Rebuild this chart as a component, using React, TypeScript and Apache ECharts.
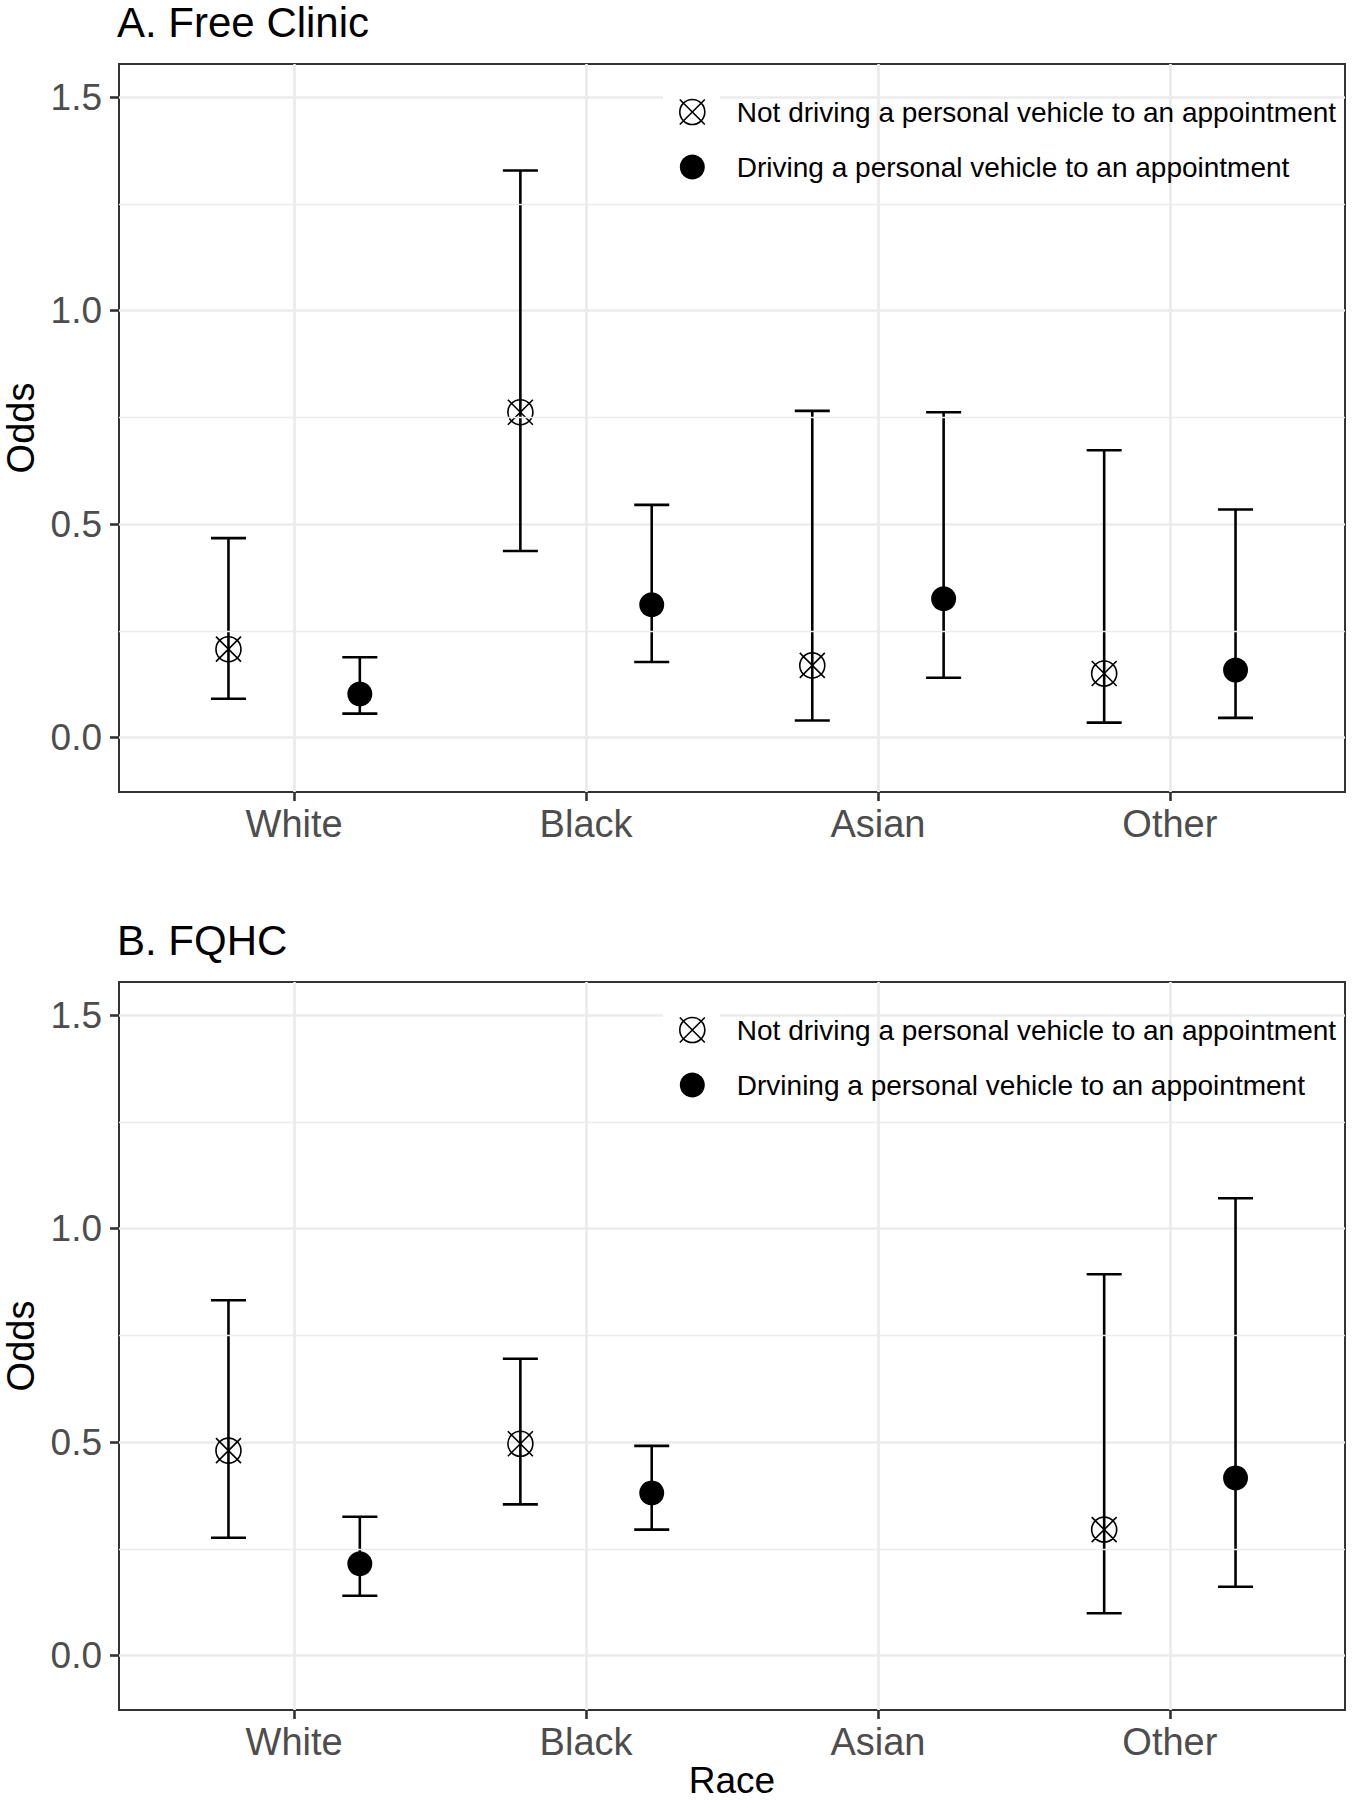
import React, { useEffect, useRef } from "react";
import * as echarts from "echarts";

const CATEGORIES = ["White", "Black", "Asian", "Other"];
const X_TICKS = [0, 1, 2, 3];
const Y_TICKS = [0, 0.5, 1.0, 1.5];
const Y_MINOR = [0.25, 0.75, 1.25];

const NAME_NOT = "Not driving a personal vehicle to an appointment";
const NAME_DRV_A = "Driving a personal vehicle to an appointment";
const NAME_DRV_B = "Drvining a personal vehicle to an appointment";

// Panel A: Free Clinic
const A_NOT_EST = [0.207, 0.762, 0.169, 0.15];
const A_NOT_LO = [0.091, 0.437, 0.04, 0.035];
const A_NOT_HI = [0.467, 1.328, 0.765, 0.673];
const A_DRV_EST = [0.102, 0.311, 0.325, 0.158];
const A_DRV_LO = [0.056, 0.177, 0.14, 0.046];
const A_DRV_HI = [0.188, 0.545, 0.762, 0.534];

// Panel B: FQHC
const B_NOT_EST = [0.48, 0.496, null, 0.295];
const B_NOT_LO = [0.276, 0.354, null, 0.099];
const B_NOT_HI = [0.832, 0.695, null, 0.893];
const B_DRV_EST = [0.215, 0.381, null, 0.416];
const B_DRV_LO = [0.14, 0.295, null, 0.161];
const B_DRV_HI = [0.325, 0.491, null, 1.071];

const DODGE = 0.225;
const CAP_HALF = 0.06;
const FONT = '"Liberation Sans", Arial, sans-serif';
const X_SYMBOL =
  "path://M25 12.5A12.5 12.5 0 1 1 0 12.5A12.5 12.5 0 1 1 25 12.5ZM0 0L25 25M0 25L25 0";

function pts(est: (number | null)[], off: number) {
  const out: number[][] = [];
  est.forEach((v, i) => {
    if (v !== null) out.push([i + off, v]);
  });
  return out;
}
function bars(lo: (number | null)[], hi: (number | null)[], off: number) {
  const out: number[][] = [];
  lo.forEach((v, i) => {
    const h = hi[i];
    if (v !== null && h !== null) out.push([i + off, v, h]);
  });
  return out;
}

const renderBar = (params: any, api: any) => {
  const x = api.value(0);
  const lo = api.value(1);
  const hi = api.value(2);
  const pLo = api.coord([x, lo]);
  const pHi = api.coord([x, hi]);
  const half = api.coord([x + CAP_HALF, lo])[0] - pLo[0];
  const st = { stroke: "#000", lineWidth: 2.6 };
  return {
    type: "group",
    children: [
      { type: "line", shape: { x1: pLo[0], y1: pHi[1], x2: pLo[0], y2: pLo[1] }, style: st },
      { type: "line", shape: { x1: pLo[0] - half, y1: pHi[1], x2: pLo[0] + half, y2: pHi[1] }, style: st },
      { type: "line", shape: { x1: pLo[0] - half, y1: pLo[1], x2: pLo[0] + half, y2: pLo[1] }, style: st },
    ],
  };
};

function panelSeries(idx: number, notEst: any[], notLo: any[], notHi: any[], drvEst: any[], drvLo: any[], drvHi: any[], drvName: string) {
  return [
    {
      type: "line",
      name: "minor-" + idx,
      xAxisIndex: idx,
      yAxisIndex: idx,
      data: [],
      z: 1,
      silent: true,
      markLine: {
        silent: true,
        symbol: "none",
        label: { show: false },
        lineStyle: { color: "#ebebeb", width: 1.4, type: "solid" },
        emphasis: { disabled: true },
        data: Y_MINOR.map((v) => ({ yAxis: v })),
      },
    },
    {
      type: "custom",
      name: "ci-not-" + idx,
      xAxisIndex: idx,
      yAxisIndex: idx,
      renderItem: renderBar,
      encode: { x: 0, y: [1, 2] },
      data: bars(notLo, notHi, -DODGE),
      z: 3,
      silent: true,
    },
    {
      type: "custom",
      name: "ci-drv-" + idx,
      xAxisIndex: idx,
      yAxisIndex: idx,
      renderItem: renderBar,
      encode: { x: 0, y: [1, 2] },
      data: bars(drvLo, drvHi, DODGE),
      z: 3,
      silent: true,
    },
    {
      type: "scatter",
      name: NAME_NOT,
      xAxisIndex: idx,
      yAxisIndex: idx,
      symbol: X_SYMBOL,
      symbolSize: 25,
      itemStyle: { color: "transparent", borderColor: "#000", borderWidth: 1.6, opacity: 1 },
      data: pts(notEst, -DODGE),
      z: 4,
    },
    {
      type: "scatter",
      name: drvName,
      xAxisIndex: idx,
      yAxisIndex: idx,
      symbol: "circle",
      symbolSize: 25,
      itemStyle: { color: "#000", borderWidth: 0, opacity: 1 },
      data: pts(drvEst, DODGE),
      z: 4,
    },
  ];
}

function xAxisDef(idx: number) {
  const ax: any = {
    type: "value",
    gridIndex: idx,
    min: -0.6,
    max: 3.6,
    axisLine: { show: false, onZero: false },
    axisTick: { show: true, customValues: X_TICKS, length: 9, lineStyle: { color: "#333333", width: 2.6 } },
    axisLabel: {
      customValues: X_TICKS,
      formatter: (v: number) => CATEGORIES[Math.round(v)],
      fontSize: 38,
      color: "#4d4d4d",
      margin: 13,
      fontFamily: FONT,
    },
    splitLine: { show: true, lineStyle: { color: "#ebebeb", width: 2.7 } },
  };
  if (idx === 1) {
    ax.name = "Race";
    ax.nameLocation = "middle";
    ax.nameGap = 40;
    ax.nameTextStyle = { fontSize: 37, lineHeight: 38, color: "#000", fontFamily: FONT };
  }
  return ax;
}

function yAxisDef(idx: number) {
  return {
    type: "value",
    gridIndex: idx,
    min: -0.1275,
    max: 1.5775,
    name: "Odds",
    nameLocation: "middle",
    nameGap: 78,
    nameTextStyle: { fontSize: 38, color: "#000", fontFamily: FONT },
    axisLine: { show: false, onZero: false },
    axisTick: { show: true, customValues: Y_TICKS, length: 9, lineStyle: { color: "#333333", width: 2.6 } },
    axisLabel: {
      customValues: Y_TICKS,
      formatter: (v: number) => v.toFixed(1),
      fontSize: 37,
      color: "#4d4d4d",
      margin: 17,
      fontFamily: FONT,
    },
    splitLine: { show: true, lineStyle: { color: "#ebebeb", width: 2.7 } },
  };
}

function legendDef(top: number, drvName: string) {
  return {
    orient: "vertical",
    left: 679,
    top,
    padding: 0,
    itemWidth: 25,
    itemHeight: 25,
    itemGap: 27,
    textStyle: { fontSize: 28, color: "#000", padding: [0, 0, 0, 27], lineHeight: 25, fontFamily: FONT },
    data: [
      {
        name: NAME_NOT,
        icon: X_SYMBOL,
        itemStyle: { color: "transparent", borderColor: "#000", borderWidth: 1.6 },
      },
      { name: drvName, icon: "circle", itemStyle: { color: "#000", borderWidth: 0, opacity: 1 } },
    ],
  };
}

export default function App() {
  const ref = useRef<HTMLDivElement>(null);
  useEffect(() => {
    if (!ref.current) return;
    const chart = echarts.init(ref.current, null, { renderer: "svg", width: 1353, height: 1800 });
    const gridBase = {
      left: 119,
      width: 1226,
      height: 728,
      show: true,
      borderColor: "#333333",
      borderWidth: 2,
      backgroundColor: "transparent",
      containLabel: false,
      outerBoundsMode: "none",
    };
    chart.setOption({
      animation: false,
      backgroundColor: "#ffffff",
      title: [
        { text: "A. Free Clinic", left: 117, top: 1, padding: 0, textStyle: { fontSize: 42, fontWeight: "normal", color: "#000", fontFamily: FONT } },
        { text: "B. FQHC", left: 117, top: 919, padding: 0, textStyle: { fontSize: 42, fontWeight: "normal", color: "#000", fontFamily: FONT } },
      ],
      grid: [
        { ...gridBase, top: 64 },
        { ...gridBase, top: 982 },
      ],
      xAxis: [xAxisDef(0), xAxisDef(1)],
      yAxis: [yAxisDef(0), yAxisDef(1)],
      legend: [legendDef(98, NAME_DRV_A), legendDef(1016, NAME_DRV_B)],
      graphic: [
        { type: "rect", z: 1, silent: true, shape: { x: 663, y: 85, width: 57, height: 108 }, style: { fill: "#ffffff" } },
        { type: "rect", z: 1, silent: true, shape: { x: 663, y: 1003, width: 57, height: 108 }, style: { fill: "#ffffff" } },
      ],
      series: [
        ...panelSeries(0, A_NOT_EST, A_NOT_LO, A_NOT_HI, A_DRV_EST, A_DRV_LO, A_DRV_HI, NAME_DRV_A),
        ...panelSeries(1, B_NOT_EST, B_NOT_LO, B_NOT_HI, B_DRV_EST, B_DRV_LO, B_DRV_HI, NAME_DRV_B),
      ],
    });
    return () => chart.dispose();
  }, []);
  return <div ref={ref} style={{ position: "absolute", left: 0, top: 0, width: 1353, height: 1800 }} />;
}
